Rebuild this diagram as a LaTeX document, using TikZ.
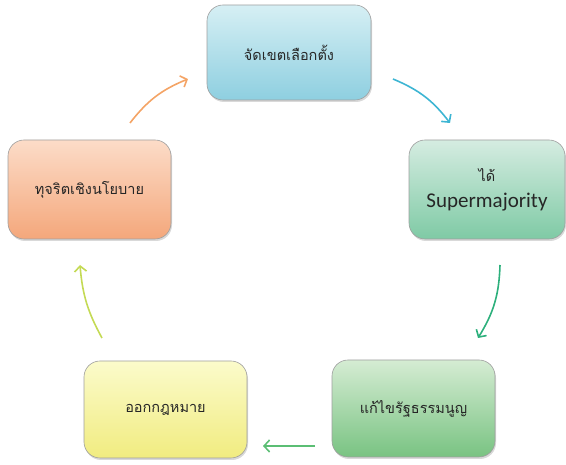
\documentclass[tikz,border=0pt]{standalone}
\usepackage{fontspec}
\setmainfont{Carlito}
\newfontfamily\thaifont[Script=Thai]{Loma}
\usetikzlibrary{arrows.meta,shadows}

\definecolor{bluetop}{HTML}{D6EFF4}
\definecolor{bluebot}{HTML}{8ECFE0}
\definecolor{tealtop}{HTML}{D5ECE1}
\definecolor{tealbot}{HTML}{7FCAA5}
\definecolor{orangetop}{HTML}{FCDCC8}
\definecolor{orangebot}{HTML}{F4A77B}
\definecolor{greentop}{HTML}{D5ECD3}
\definecolor{greenbot}{HTML}{79C382}
\definecolor{yellowtop}{HTML}{FBFBCB}
\definecolor{yellowbot}{HTML}{F1EC80}
\definecolor{arrorange}{HTML}{F4A466}
\definecolor{arrblue}{HTML}{3DB5D3}
\definecolor{arrteal}{HTML}{2DB07C}
\definecolor{arrgreen}{HTML}{5BBE74}
\definecolor{arryellow}{HTML}{C4DA55}

\begin{document}
\begin{tikzpicture}[x=1pt,y=1pt,
    stagebox/.style={draw=gray!75, line width=0.6pt, rounded corners=16pt,
      minimum width=163pt, minimum height=97pt, align=center,
      font=\thaifont\fontsize{14.5}{17}\selectfont, text=black!85,
      drop shadow={opacity=0.3, shadow xshift=1pt, shadow yshift=-2pt}},
    cyclearrow/.style={line width=1.6pt, -{Straight Barb[length=5.5pt,width=12pt]}}]
    \useasboundingbox (0,0) rectangle (566,465);

    % the five stages
    \node[stagebox, top color=bluetop, bottom color=bluebot,
      minimum width=164pt, minimum height=95pt] (district) at (289,412.5) {จัดเขตเลือกตั้ง};
    \node[stagebox, top color=tealtop, bottom color=tealbot,
      minimum width=156pt, minimum height=99pt] (majority) at (487,275.5)
      {ได้\\[9pt]{\rmfamily\fontsize{21}{24}\selectfont Supermajority}};
    \node[stagebox, top color=greentop, bottom color=greenbot] (charter) at (413.5,56.5) {แก้ไขรัฐธรรมนูญ};
    \node[stagebox, top color=yellowtop, bottom color=yellowbot] (law) at (165.5,55.5) {ออกกฎหมาย};
    \node[stagebox, top color=orangetop, bottom color=orangebot,
      minimum height=99pt] (corrupt) at (89.5,275.5) {ทุจริตเชิงนโยบาย};

    % arrow ends
    \coordinate (a1) at (130,342);
    \coordinate (b1) at (188,386);
    \coordinate (a2) at (393,386);
    \coordinate (b2) at (450,342);
    \coordinate (a3) at (500,200);
    \coordinate (b3) at (478,127);
    \coordinate (a4) at (315,19);
    \coordinate (b4) at (263,19);
    \coordinate (a5) at (102,127);
    \coordinate (b5) at (80,200);

    \draw[cyclearrow, arrorange] (a1) to[bend left=15] (b1);
    \draw[cyclearrow, arrblue] (a2) to[bend left=15] (b2);
    \draw[cyclearrow, arrteal] (a3) to[bend left=15] (b3);
    \draw[cyclearrow, arrgreen] (a4) -- (b4);
    \draw[cyclearrow, arryellow] (a5) to[bend left=12] (b5);
\end{tikzpicture}
\end{document}
